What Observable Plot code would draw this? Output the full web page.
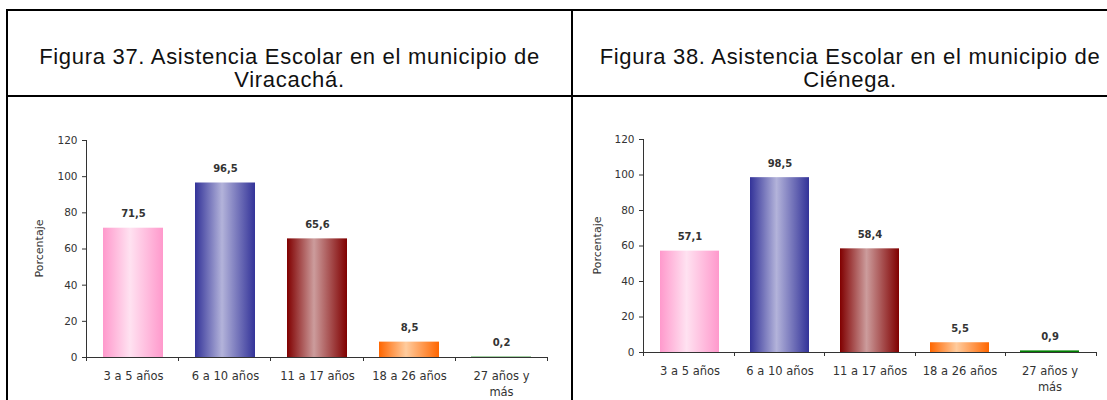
<!DOCTYPE html>
<html>
<head>
<meta charset="utf-8">
<script src="https://cdn.jsdelivr.net/npm/d3@7"></script>
<script src="https://cdn.jsdelivr.net/npm/@observablehq/plot@0.6"></script>
<style>
  html, body { margin: 0; padding: 0; background: #fff; }
  #page { position: relative; width: 1107px; height: 400px; overflow: hidden; font-family: "Liberation Sans", Arial, sans-serif; }
  .line { position: absolute; background: #000; }
  .title { position: absolute; text-align: center; font-size: 22px; line-height: 23px; letter-spacing: 0.7px; color: #111; white-space: nowrap; }
  .chart { position: absolute; }
</style>
</head>
<body>
<div id="page">
  <div class="line" style="left:6px; top:9px; width:1101px; height:2px;"></div>
  <div class="line" style="left:6px; top:95px; width:1101px; height:2px;"></div>
  <div class="line" style="left:6px; top:9px; width:2px; height:391px;"></div>
  <div class="line" style="left:571px; top:9px; width:2px; height:391px;"></div>
  <div class="title" id="t1" style="left:8px; width:563px; top:45px;"></div>
  <div class="title" id="t2" style="left:573px; width:554px; top:45px;"></div>
  <div class="chart" id="c1" style="left:8px; top:97px;"></div>
  <div class="chart" id="c2" style="left:573px; top:97px;"></div>
</div>
<script>
// ---- data ----
const categories = ["3 a 5 años", "6 a 10 años", "11 a 17 años", "18 a 26 años", "27 años y más"];
const tickLabels = ["3 a 5 años", "6 a 10 años", "11 a 17 años", "18 a 26 años", "27 años y\nmás"];
const viracachaValues = [71.5, 96.5, 65.6, 8.5, 0.2];
const cienegaValues = [57.1, 98.5, 58.4, 5.5, 0.9];
const yTicks = [0, 20, 40, 60, 80, 100, 120];
const titleViracacha = ["Figura 37. Asistencia Escolar en el municipio de", "Viracachá."];
const titleCienega = ["Figura 38. Asistencia Escolar en el municipio de", "Ciénega."];
const yLabel = "Porcentaje";
// gradient colours per category: [edge, centre]
const barColors = [["#ff99cc", "#ffe2f1"], ["#333399", "#b3b3da"], ["#800000", "#cc9c9c"], ["#ff6600", "#ffcc9e"], ["#008000", "#008000"]];

document.getElementById("t1").innerHTML = titleViracacha.join("<br>");
document.getElementById("t2").innerHTML = titleCienega.join("<br>");

const fmt = v => v.toFixed(1).replace(".", ",");
const chartFont = "'DejaVu Sans', Verdana, sans-serif";

function makeChart(prefix, values, opts) {
  const data = categories.map((c, i) => ({cat: c, value: values[i], fill: `url(#${prefix}-g${i})`}));
  const labelMap = new Map(categories.map((c, i) => [c, tickLabels[i]]));
  const axisLines = (index, scales, vals, dim) => {
    const g = d3.create("svg:g").attr("stroke", "#333").attr("stroke-width", 1);
    const x0 = dim.marginLeft, x1 = dim.width - dim.marginRight;
    const y0 = dim.marginTop, y1 = dim.height - dim.marginBottom;
    g.append("line").attr("x1", x0 + 0.5).attr("x2", x0 + 0.5).attr("y1", y0).attr("y2", y1 + 0.5);
    g.append("line").attr("x1", x0).attr("x2", x1).attr("y1", y1 + 0.5).attr("y2", y1 + 0.5);
    const n = categories.length, step = (x1 - x0) / n;
    for (let i = 0; i <= n; i++) {
      const xx = Math.round(x0 + i * step) + 0.5;
      g.append("line").attr("x1", xx).attr("x2", xx).attr("y1", y1).attr("y2", y1 + 4);
    }
    g.append("text")
      .attr("stroke", "none").attr("fill", "#333")
      .attr("font-size", 11)
      .attr("text-anchor", "middle")
      .attr("dominant-baseline", "middle")
      .attr("transform", `translate(${x0 - opts.yLabelOffset},${(y0 + y1) / 2}) rotate(-90)`)
      .text(yLabel);
    return g.node();
  };
  const plot = Plot.plot({
    width: opts.width,
    height: opts.height,
    marginLeft: opts.marginLeft,
    marginRight: opts.marginRight,
    marginTop: opts.marginTop,
    marginBottom: opts.marginBottom,
    style: {fontFamily: chartFont, fontSize: "11px", color: "#333", background: "transparent"},
    x: {domain: categories, paddingInner: 0.35, paddingOuter: 0.175, label: null},
    y: {domain: [0, 120], label: null},
    color: {type: "identity"},
    marks: [
      Plot.barY(data, {x: "cat", y: "value", fill: "fill"}),
      Plot.text(data, {x: "cat", y: "value", text: d => fmt(d.value), dy: -14, fontWeight: "bold", fontSize: 10, fill: "#333"}),
      Plot.axisY({ticks: yTicks, tickSize: 4, tickPadding: 5, fontSize: 10.5, label: null}),
      Plot.axisX({tickSize: 0, tickPadding: opts.xPad, tickFormat: d => labelMap.get(d), lineHeight: 1.4, fontSize: 11.5, label: null}),
      axisLines
    ]
  });
  // gradient definitions
  const defs = d3.select(plot).insert("defs", ":first-child");
  barColors.forEach(([edge, mid], i) => {
    const lg = defs.append("linearGradient").attr("id", `${prefix}-g${i}`).attr("x1", "0").attr("x2", "1").attr("y1", "0").attr("y2", "0");
    lg.append("stop").attr("offset", "0%").attr("stop-color", edge);
    lg.append("stop").attr("offset", "45%").attr("stop-color", mid);
    lg.append("stop").attr("offset", "100%").attr("stop-color", edge);
  });
  return plot;
}

document.getElementById("c1").appendChild(makeChart("v", viracachaValues, {
  width: 563, height: 303, marginLeft: 78, marginRight: 24, marginTop: 43, marginBottom: 43, xPad: 11, yLabelOffset: 46
}));
document.getElementById("c2").appendChild(makeChart("c", cienegaValues, {
  width: 534, height: 303, marginLeft: 70, marginRight: 11, marginTop: 42, marginBottom: 48, xPad: 11, yLabelOffset: 45
}));
</script>
</body>
</html>
